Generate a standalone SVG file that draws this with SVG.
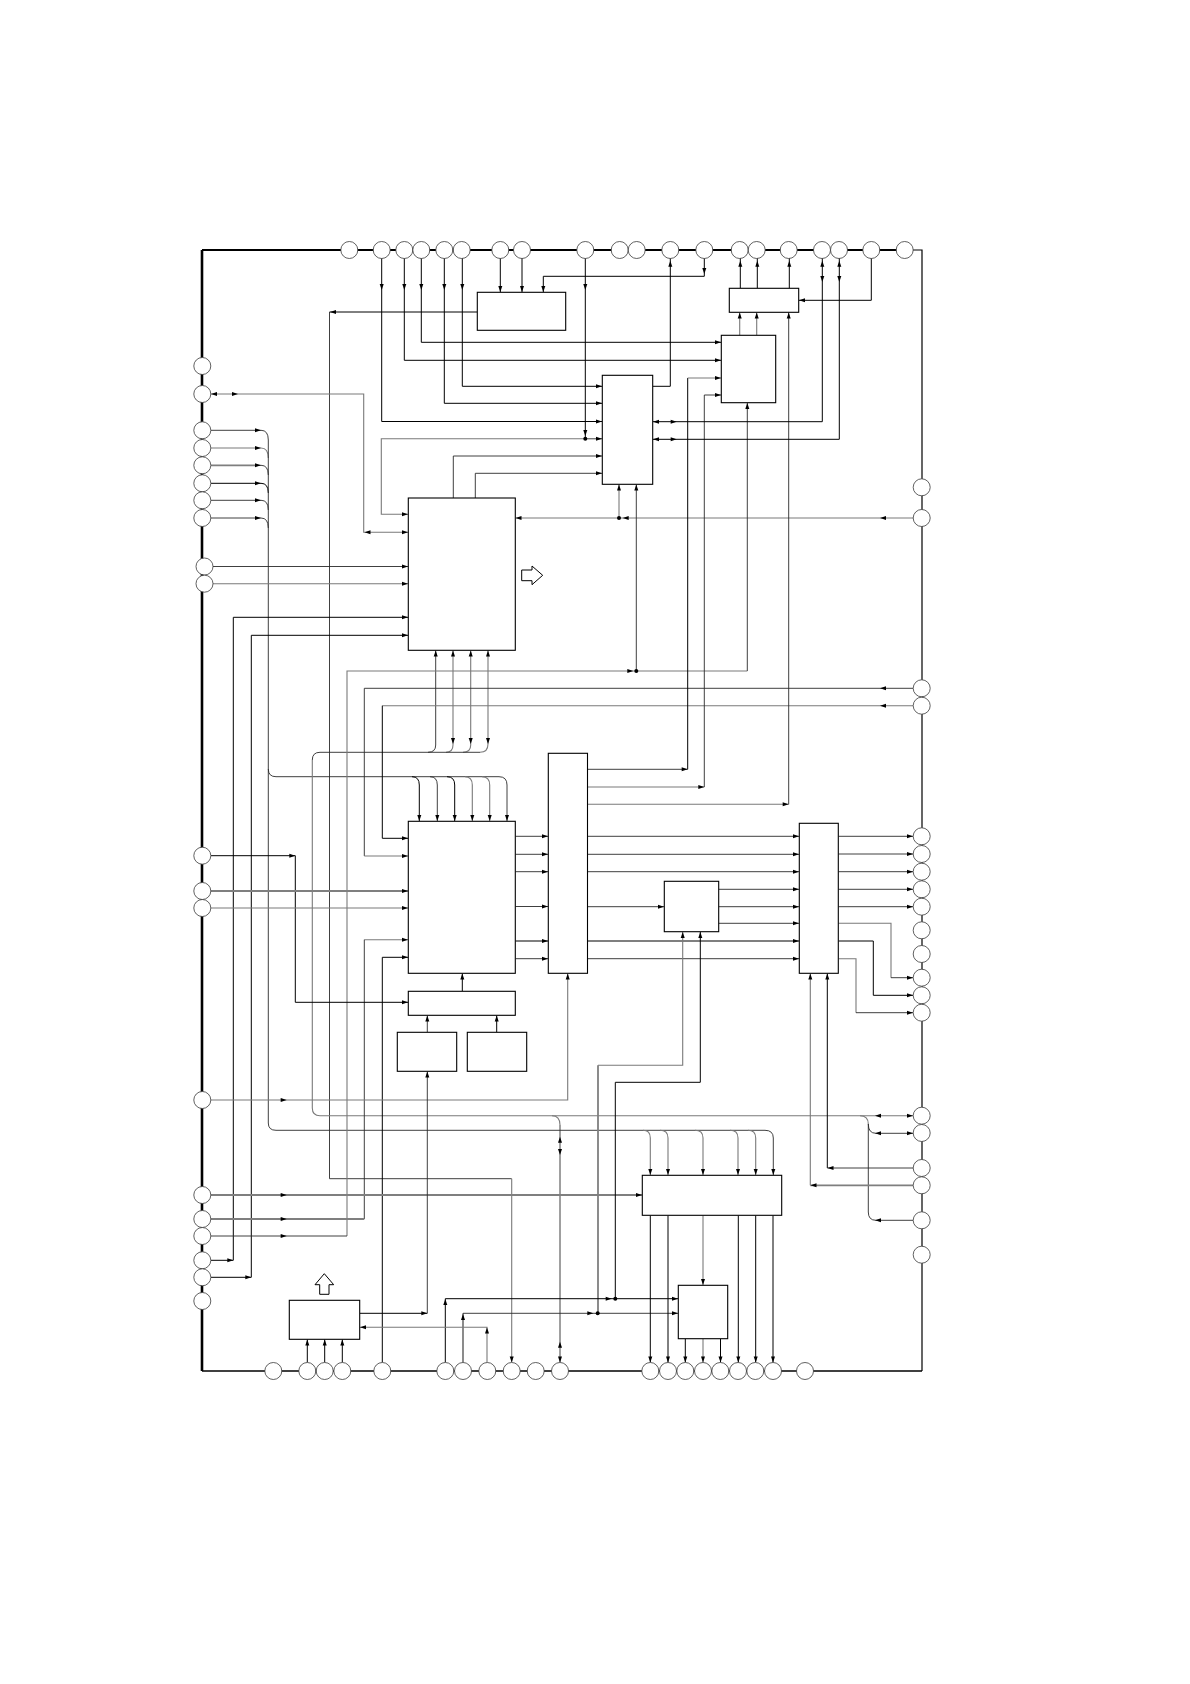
<svg xmlns="http://www.w3.org/2000/svg" width="1190" height="1684" viewBox="0 0 1190 1684">
<style>
#connectors path{fill:none;stroke:#2a2a2a;stroke-width:.9}
#connectors path.k{stroke:#000;stroke-width:1}
#connectors path.g{stroke:#7a7a7a;stroke-width:1.1}
#connectors path.t{stroke:#7f7f7f;stroke-width:1.8}
#frame path{fill:none;stroke:#000}
.box rect{fill:#fff;stroke:#000;stroke-width:1.1}
.pin circle{fill:#fff;stroke:#3a3a3a;stroke-width:.8}
.hollow polygon{fill:#fff;stroke:#000;stroke-width:1}
.h{fill:#000;stroke:none}
</style>
<defs>
<path id="r" class="h" d="M0 0L-6-2V2Z"/>
<path id="l" class="h" d="M0 0L6-2V2Z"/>
<path id="u" class="h" d="M0 0L-2 6H2Z"/>
<path id="d" class="h" d="M0 0L-2-6H2Z"/>
<circle id="dot" class="h" r="2"/>
</defs>
<rect width="1190" height="1684" fill="#fff"/>
<g id="frame">
<path d="M202 1371V250" stroke-width="2.6"/>
<path d="M202 250H904" stroke-width="2"/>
<path d="M904 250H922V1371" stroke-width="1.2"/>
<path d="M202 1371H922" stroke-width="1.4"/>
</g>
<g id="connectors">
<path class="k" d="M381.7 258V421.5H602"/>
<path class="k" d="M404.3 258V360.3H721"/>
<path class="k" d="M421.3 258V342.3H721"/>
<path class="k" d="M444.3 258V403.3H602"/>
<path class="k" d="M462.3 258V386.3H602"/>
<path class="k" d="M500.3 258V292"/>
<path class="k" d="M522 258V292"/>
<path class="k" d="M543.3 292V276.3H704.3V258"/>
<path class="k" d="M585.3 258V438.8"/>
<path class="g" d="M585.3 438.8H381.3V514.3H408"/>
<path d="M585.3 438.8H602"/>
<path d="M453.3 498V456H602"/>
<path d="M475.3 498V473.3H602"/>
<path class="k" d="M477 312H329.5"/>
<path d="M329.5 312V1178.7H511.7"/>
<path class="g" d="M511.7 1178.7V1362"/>
<path class="g" d="M211 394H363.7V532.3H408"/>
<path d="M211 430.3H261Q268.3 430.3 268.3 440"/>
<path class="g" d="M211 448H261Q268.3 448 268.3 458"/>
<path class="t" d="M211 465.3H255"/>
<path d="M255 465.3H261Q268.3 465.3 268.3 475"/>
<path class="k" d="M211 483.3H261Q268.3 483.3 268.3 493"/>
<path d="M211 500.3H261Q268.3 500.3 268.3 510"/>
<path d="M211 518H261Q268.3 518 268.3 528"/>
<path d="M268.3 440V769Q268.3 776.7 276 776.7H499Q507 776.7 507 785V821"/>
<path class="k" d="M412 776.7Q419.3 776.7 419.3 785V821"/>
<path d="M430 776.7Q437.3 776.7 437.3 785V821"/>
<path class="k" d="M447 776.7Q454.7 776.7 454.7 785V821"/>
<path class="g" d="M465 776.7Q472.3 776.7 472.3 785V821"/>
<path class="g" d="M482 776.7Q489.7 776.7 489.7 785V821"/>
<path d="M268.3 769V1123Q268.3 1130.3 276 1130.3H765Q773.3 1130.3 773.3 1138V1175"/>
<path class="g" d="M643 1130.3Q650.3 1130.3 650.3 1138V1175"/>
<path class="g" d="M660 1130.3Q668 1130.3 668 1138V1175"/>
<path class="g" d="M695 1130.3Q703 1130.3 703 1138V1175"/>
<path class="g" d="M730 1130.3Q738 1130.3 738 1138V1175"/>
<path class="g" d="M748 1130.3Q755.7 1130.3 755.7 1138V1175"/>
<path d="M212 566.5H408"/>
<path class="g" d="M212 583.7H408"/>
<path class="k" d="M408 617.3H233.3V1260.3H211"/>
<path class="k" d="M408 635.3H251.3V1277.3H211"/>
<path d="M435.7 650.3V745Q435.7 752.3 428 752.3"/>
<path class="g" d="M453 650.3V745Q453 752.3 446 752.3"/>
<path class="g" d="M470.7 650.3V745Q470.7 752.3 463 752.3"/>
<path class="g" d="M488 650.3V744Q488 752.3 480 752.3"/>
<path d="M480 752.3H320Q312.3 752.3 312.3 760"/>
<path class="g" d="M312.3 760V1108Q312.3 1115.7 320 1115.7H860Q868.3 1115.7 868.3 1124"/>
<path class="g" d="M860 1115.7H913"/>
<path d="M868.3 1124V1212Q868.3 1220.3 876 1220.3H913"/>
<path d="M868.3 1124Q868.3 1133.3 876 1133.3H913"/>
<path class="g" d="M552 1115.7Q560 1115.7 560 1125"/>
<path d="M560 1125V1362"/>
<path class="g" d="M913 518H515.5"/>
<path class="g" d="M619 518V484.5"/>
<path d="M636.3 484.5V671"/>
<path class="g" d="M636.3 671H347V1236"/>
<path d="M347 1236H211"/>
<path class="g" d="M636.3 671H747.3"/>
<path d="M747.3 671V403"/>
<path d="M913 688.3H364.3V856"/>
<path class="g" d="M364.3 856H408"/>
<path class="g" d="M913 705.7H382.3"/>
<path class="k" d="M382.3 705.7V838.3H408"/>
<path class="g" d="M364.3 939.7H408"/>
<path d="M364.3 939.7V1219"/>
<path class="t" d="M364.3 1219H211"/>
<path class="k" d="M382.3 1362.5V957.3H408"/>
<path class="k" d="M211 855.7H295.3V1002.3H408"/>
<path class="t" d="M211 891H408"/>
<path class="g" d="M211 908H408"/>
<path class="g" d="M211 1100H567.7V973.5"/>
<path class="t" d="M211 1195H642"/>
<path d="M587.5 769.3H687.7"/>
<path class="k" d="M687.7 769.3V378"/>
<path class="g" d="M687.7 378H721"/>
<path class="g" d="M587.5 787H704.3"/>
<path d="M704.3 787V395"/>
<path d="M704.3 395H721"/>
<path class="g" d="M587.5 804.3H788.7"/>
<path d="M788.7 804.3V312.5"/>
<path d="M587.5 836.3H799"/>
<path d="M587.5 854.3H799"/>
<path d="M587.5 871.7H799"/>
<path d="M718.7 889.3H799"/>
<path d="M718.7 906.7H799"/>
<path d="M718.7 923.3H799"/>
<path d="M587.5 906.7H664"/>
<path class="t" d="M587.5 941H799"/>
<path d="M587.5 958.7H799"/>
<path d="M838.5 836.3H913"/>
<path d="M838.5 854H913"/>
<path d="M838.5 871.7H913"/>
<path d="M838.5 889.3H913"/>
<path d="M838.5 906.7H913"/>
<path class="g" d="M838.5 923.3H891V977.7"/>
<path d="M891 977.7H913"/>
<path class="k" d="M838.5 941H873.3V995.3H913"/>
<path class="g" d="M838.5 958.7H856V1012.7"/>
<path d="M856 1012.7H913"/>
<path class="g" d="M810.3 973.5V1185.3"/>
<path class="t" d="M810.3 1185.3H913"/>
<path class="k" d="M827.3 973.5V1168"/>
<path d="M827.3 1168H913"/>
<path d="M515.5 836.3H548"/>
<path d="M515.5 854.3H548"/>
<path d="M515.5 871.7H548"/>
<path d="M515.5 906.5H548"/>
<path class="t" d="M515.5 941H548"/>
<path d="M515.5 958.7H548"/>
<path class="k" d="M462.3 991V973.5"/>
<path d="M427.3 1032V1015.5"/>
<path class="k" d="M496.7 1032V1015.5"/>
<path d="M427.3 1071.5V1313.3"/>
<path class="k" d="M427.3 1313.3H360"/>
<path class="g" d="M682.7 931.9V1065.3H598"/>
<path class="t" d="M598 1065.3V1313.3"/>
<path class="k" d="M700.3 931.9V1082.3H615.3V1298.7"/>
<path class="k" d="M445.3 1362.5V1298.7H678"/>
<path class="t" d="M463 1362.5V1313.3"/>
<path d="M463 1313.3H678"/>
<path class="g" d="M487 1362.5V1327.3H360"/>
<path class="k" d="M307.3 1362.5V1339.5"/>
<path class="k" d="M324.7 1362.5V1339.5"/>
<path class="k" d="M342.3 1362.5V1339.5"/>
<path class="k" d="M650.3 1215.5V1362.5"/>
<path class="k" d="M668 1215.5V1362.5"/>
<path class="g" d="M703 1215.5V1285"/>
<path class="k" d="M738.3 1215.5V1362.5"/>
<path class="k" d="M755.7 1215.5V1362.5"/>
<path class="k" d="M773 1215.5V1362.5"/>
<path class="k" d="M685.3 1339V1362.5"/>
<path class="g" d="M703 1339V1362.5"/>
<path class="k" d="M720.5 1339V1362.5"/>
<path class="k" d="M652.9 386.3H670.3V258"/>
<path class="k" d="M740.3 288.3V258"/>
<path class="k" d="M757.3 288.3V258"/>
<path class="k" d="M789.3 288.3V258"/>
<path class="g" d="M739.7 335.3V312.5"/>
<path class="g" d="M756.7 335.3V312.5"/>
<path class="k" d="M822.3 258V421.7H653"/>
<path class="k" d="M839.3 258V439.3H653"/>
<path class="k" d="M871.3 258V300.3H799"/>
<use href="#d" x="381.7" y="290"/><use href="#d" x="404.3" y="290"/><use href="#d" x="421.3" y="290"/><use href="#d" x="444.3" y="290"/><use href="#d" x="462.3" y="290"/><use href="#d" x="585.3" y="290"/><use href="#d" x="585.3" y="436"/><use href="#d" x="704.3" y="274"/>
<use href="#d" x="500.3" y="292"/><use href="#d" x="522" y="292"/><use href="#d" x="543.3" y="292"/>
<use href="#r" x="602" y="386.3"/><use href="#r" x="602" y="403.3"/><use href="#r" x="602" y="421.5"/><use href="#r" x="602" y="438.8"/><use href="#r" x="602" y="456"/><use href="#r" x="602" y="473.3"/>
<use href="#r" x="721" y="342.3"/><use href="#r" x="721" y="360.3"/><use href="#r" x="721" y="378"/><use href="#r" x="721" y="395"/>
<use href="#l" x="330" y="312"/>
<use href="#l" x="211" y="394"/><use href="#r" x="238" y="394"/><use href="#l" x="364.5" y="532.3"/><use href="#r" x="408" y="532.3"/><use href="#r" x="408" y="514.3"/>
<use href="#r" x="261" y="430.3"/><use href="#r" x="261" y="448"/><use href="#r" x="261" y="465.3"/><use href="#r" x="261" y="483.3"/><use href="#r" x="261" y="500.3"/><use href="#r" x="261" y="518"/>
<use href="#r" x="408" y="566.5"/><use href="#r" x="408" y="583.7"/><use href="#r" x="408" y="617.3"/><use href="#r" x="408" y="635.3"/>
<use href="#u" x="435.7" y="650.5"/><use href="#u" x="453" y="650.5"/><use href="#u" x="470.7" y="650.5"/><use href="#u" x="488" y="650.5"/>
<use href="#d" x="453" y="744"/><use href="#d" x="470.7" y="744"/><use href="#d" x="488" y="744"/>
<use href="#d" x="419.3" y="821"/><use href="#d" x="437.3" y="821"/><use href="#d" x="454.7" y="821"/><use href="#d" x="472.3" y="821"/><use href="#d" x="489.7" y="821"/><use href="#d" x="507" y="821"/>
<use href="#d" x="650.3" y="1175"/><use href="#d" x="668" y="1175"/><use href="#d" x="703" y="1175"/><use href="#d" x="738" y="1175"/><use href="#d" x="755.7" y="1175"/><use href="#d" x="773.3" y="1175"/>
<use href="#r" x="233.3" y="1260.3"/><use href="#r" x="251.3" y="1277.3"/>
<use href="#l" x="880" y="518"/><use href="#l" x="515.5" y="518"/><use href="#l" x="622.7" y="518"/><use href="#u" x="619" y="484.5"/><use href="#u" x="636.3" y="484.5"/>
<use href="#r" x="633.3" y="671"/><use href="#u" x="747.3" y="403"/>
<use href="#l" x="880" y="688.3"/><use href="#l" x="880" y="705.7"/>
<use href="#r" x="408" y="838.3"/><use href="#r" x="408" y="856"/><use href="#r" x="408" y="891"/><use href="#r" x="408" y="908"/><use href="#r" x="408" y="939.7"/><use href="#r" x="408" y="957.3"/><use href="#r" x="408" y="1002.3"/>
<use href="#r" x="295.3" y="855.7"/>
<use href="#r" x="286.7" y="1100"/><use href="#r" x="286.7" y="1195"/><use href="#r" x="286.7" y="1219"/><use href="#r" x="286.7" y="1236"/>
<use href="#u" x="567.7" y="973.5"/><use href="#r" x="642" y="1195"/>
<use href="#r" x="687.7" y="769.3"/><use href="#r" x="704.3" y="787"/><use href="#r" x="788.7" y="804.3"/><use href="#u" x="788.7" y="312.5"/>
<use href="#r" x="799" y="836.3"/><use href="#r" x="799" y="854.3"/><use href="#r" x="799" y="871.7"/><use href="#r" x="799" y="889.3"/><use href="#r" x="799" y="906.7"/><use href="#r" x="799" y="923.3"/><use href="#r" x="799" y="941"/><use href="#r" x="799" y="958.7"/>
<use href="#r" x="664" y="906.7"/>
<use href="#r" x="913" y="836.3"/><use href="#r" x="913" y="854"/><use href="#r" x="913" y="871.7"/><use href="#r" x="913" y="889.3"/><use href="#r" x="913" y="906.7"/><use href="#r" x="913" y="977.7"/><use href="#r" x="913" y="995.3"/><use href="#r" x="913" y="1012.7"/>
<use href="#u" x="810.3" y="973.5"/><use href="#u" x="827.3" y="973.5"/><use href="#l" x="827.5" y="1168"/><use href="#l" x="810.5" y="1185.3"/>
<use href="#r" x="548" y="836.3"/><use href="#r" x="548" y="854.3"/><use href="#r" x="548" y="871.7"/><use href="#r" x="548" y="906.5"/><use href="#r" x="548" y="941"/><use href="#r" x="548" y="958.7"/>
<use href="#u" x="462.3" y="973.5"/><use href="#u" x="427.3" y="1015.5"/><use href="#u" x="496.7" y="1015.5"/><use href="#u" x="427.3" y="1071.5"/><use href="#r" x="427.3" y="1313.3"/>
<use href="#u" x="682.7" y="932"/><use href="#u" x="700.3" y="932"/>
<use href="#u" x="445.3" y="1299"/><use href="#u" x="463" y="1314"/><use href="#u" x="487" y="1327.5"/><use href="#l" x="360" y="1327.3"/>
<use href="#r" x="611.7" y="1298.7"/><use href="#r" x="593.3" y="1313.3"/><use href="#r" x="678" y="1298.7"/><use href="#r" x="678" y="1313.3"/>
<use href="#u" x="307.3" y="1339.5"/><use href="#u" x="324.7" y="1339.5"/><use href="#u" x="342.3" y="1339.5"/>
<use href="#d" x="511.7" y="1362.5"/><use href="#u" x="560" y="1136.7"/><use href="#d" x="560" y="1155"/><use href="#u" x="560" y="1341.7"/><use href="#d" x="560" y="1362.5"/>
<use href="#d" x="650.3" y="1362.5"/><use href="#d" x="668" y="1362.5"/><use href="#d" x="685.3" y="1362.5"/><use href="#d" x="703" y="1362.5"/><use href="#d" x="720.5" y="1362.5"/><use href="#d" x="738.3" y="1362.5"/><use href="#d" x="755.7" y="1362.5"/><use href="#d" x="773" y="1362.5"/>
<use href="#d" x="703" y="1285"/>
<use href="#l" x="875" y="1115.7"/><use href="#r" x="913" y="1115.7"/><use href="#l" x="875" y="1133.3"/><use href="#r" x="913" y="1133.3"/><use href="#l" x="875" y="1220.3"/>
<use href="#u" x="670.3" y="260.7"/><use href="#u" x="740.3" y="260.7"/><use href="#u" x="757.3" y="260.7"/><use href="#u" x="789.3" y="260.7"/>
<use href="#u" x="739.7" y="312.5"/><use href="#u" x="756.7" y="312.5"/>
<use href="#u" x="822.3" y="260.7"/><use href="#d" x="822.3" y="282"/><use href="#u" x="839.3" y="260.7"/><use href="#d" x="839.3" y="282"/>
<use href="#l" x="653" y="421.7"/><use href="#r" x="676.7" y="421.7"/><use href="#l" x="653" y="439.3"/><use href="#r" x="676.7" y="439.3"/><use href="#l" x="799" y="300.3"/>
<use href="#dot" x="585.3" y="438.8"/><use href="#dot" x="619" y="518"/><use href="#dot" x="636.3" y="671"/><use href="#dot" x="615.3" y="1298.7"/><use href="#dot" x="597.7" y="1313.3"/>
</g>
<g id="boxes" class="box">
<g id="box-a"><rect x="477.3" y="292.3" width="88.4" height="38"/></g>
<g id="box-b"><rect x="729.3" y="288.3" width="69.4" height="24"/></g>
<g id="box-c"><rect x="721.3" y="335.3" width="54.4" height="67.4"/></g>
<g id="box-d"><rect x="602.3" y="375.3" width="50.4" height="109"/></g>
<g id="box-e"><rect x="408.3" y="498" width="107" height="152.3"/></g>
<g id="box-f"><rect x="408.3" y="821.3" width="107" height="152"/></g>
<g id="box-g"><rect x="548.3" y="753.3" width="39.2" height="220"/></g>
<g id="box-h"><rect x="664.3" y="881.3" width="54.4" height="50.4"/></g>
<g id="box-i"><rect x="799.3" y="823.3" width="39" height="150"/></g>
<g id="box-j"><rect x="408.3" y="991.3" width="107" height="24"/></g>
<g id="box-k"><rect x="397.3" y="1032.3" width="59.4" height="39"/></g>
<g id="box-l"><rect x="467.3" y="1032.3" width="59.4" height="39"/></g>
<g id="box-m"><rect x="642.3" y="1175.3" width="139.4" height="40"/></g>
<g id="box-n"><rect x="678.3" y="1285.3" width="49.4" height="53.4"/></g>
<g id="box-o"><rect x="289.3" y="1300.3" width="70.4" height="39"/></g>
</g>
<g id="hollow-arrows" class="hollow">
<g id="arrow-right"><polygon points="521.7,570 532,570 532,566 542.7,575.3 532,584.7 532,580.7 521.7,580.7"/></g>
<g id="arrow-up"><polygon points="324.3,1273.7 333.7,1284.7 329,1284.7 329,1294.3 319.7,1294.3 319.7,1284.7 315,1284.7"/></g>
</g>
<g id="pins" class="pin">
<g id="t1"><circle cx="349.3" cy="250" r="8.5"/></g>
<g id="t2"><circle cx="381.7" cy="250" r="8.5"/></g>
<g id="t3"><circle cx="404.3" cy="250" r="8.5"/></g>
<g id="t4"><circle cx="421.3" cy="250" r="8.5"/></g>
<g id="t5"><circle cx="444.3" cy="250" r="8.5"/></g>
<g id="t6"><circle cx="461.7" cy="250" r="8.5"/></g>
<g id="t7"><circle cx="500.3" cy="250" r="8.5"/></g>
<g id="t8"><circle cx="522" cy="250" r="8.5"/></g>
<g id="t9"><circle cx="585.3" cy="250" r="8.5"/></g>
<g id="t10"><circle cx="619.7" cy="250" r="8.5"/></g>
<g id="t11"><circle cx="636.7" cy="250" r="8.5"/></g>
<g id="t12"><circle cx="670.3" cy="250" r="8.5"/></g>
<g id="t13"><circle cx="704.3" cy="250" r="8.5"/></g>
<g id="t14"><circle cx="739.7" cy="250" r="8.5"/></g>
<g id="t15"><circle cx="756.7" cy="250" r="8.5"/></g>
<g id="t16"><circle cx="788.7" cy="250" r="8.5"/></g>
<g id="t17"><circle cx="822" cy="250" r="8.5"/></g>
<g id="t18"><circle cx="839" cy="250" r="8.5"/></g>
<g id="t19"><circle cx="871.3" cy="250" r="8.5"/></g>
<g id="t20"><circle cx="904.7" cy="250" r="8.5"/></g>
<g id="l1"><circle cx="202.3" cy="366" r="8.5"/></g>
<g id="l2"><circle cx="202.3" cy="394" r="8.5"/></g>
<g id="l3"><circle cx="202.3" cy="430.3" r="8.5"/></g>
<g id="l4"><circle cx="202.3" cy="448" r="8.5"/></g>
<g id="l5"><circle cx="202.3" cy="465.3" r="8.5"/></g>
<g id="l6"><circle cx="202.3" cy="483.3" r="8.5"/></g>
<g id="l7"><circle cx="202.3" cy="500.3" r="8.5"/></g>
<g id="l8"><circle cx="202.3" cy="518" r="8.5"/></g>
<g id="l9"><circle cx="204.5" cy="566.5" r="8.5"/></g>
<g id="l10"><circle cx="204.5" cy="583.7" r="8.5"/></g>
<g id="l11"><circle cx="202.3" cy="855.7" r="8.5"/></g>
<g id="l12"><circle cx="202.3" cy="891" r="8.5"/></g>
<g id="l13"><circle cx="202.3" cy="908" r="8.5"/></g>
<g id="l14"><circle cx="202.3" cy="1100" r="8.5"/></g>
<g id="l15"><circle cx="202.3" cy="1195" r="8.5"/></g>
<g id="l16"><circle cx="202.3" cy="1219" r="8.5"/></g>
<g id="l17"><circle cx="202.3" cy="1236" r="8.5"/></g>
<g id="l18"><circle cx="202.3" cy="1260.3" r="8.5"/></g>
<g id="l19"><circle cx="202.3" cy="1277.3" r="8.5"/></g>
<g id="l20"><circle cx="202.3" cy="1301" r="8.5"/></g>
<g id="b1"><circle cx="273.3" cy="1371" r="8.5"/></g>
<g id="b2"><circle cx="307.3" cy="1371" r="8.5"/></g>
<g id="b3"><circle cx="324.7" cy="1371" r="8.5"/></g>
<g id="b4"><circle cx="342.3" cy="1371" r="8.5"/></g>
<g id="b5"><circle cx="382.3" cy="1371" r="8.5"/></g>
<g id="b6"><circle cx="445.3" cy="1371" r="8.5"/></g>
<g id="b7"><circle cx="463" cy="1371" r="8.5"/></g>
<g id="b8"><circle cx="487.3" cy="1371" r="8.5"/></g>
<g id="b9"><circle cx="511.7" cy="1371" r="8.5"/></g>
<g id="b10"><circle cx="535.7" cy="1371" r="8.5"/></g>
<g id="b11"><circle cx="560" cy="1371" r="8.5"/></g>
<g id="b12"><circle cx="650.3" cy="1371" r="8.5"/></g>
<g id="b13"><circle cx="668" cy="1371" r="8.5"/></g>
<g id="b14"><circle cx="685.3" cy="1371" r="8.5"/></g>
<g id="b15"><circle cx="703" cy="1371" r="8.5"/></g>
<g id="b16"><circle cx="720.3" cy="1371" r="8.5"/></g>
<g id="b17"><circle cx="738" cy="1371" r="8.5"/></g>
<g id="b18"><circle cx="755.3" cy="1371" r="8.5"/></g>
<g id="b19"><circle cx="773" cy="1371" r="8.5"/></g>
<g id="b20"><circle cx="805" cy="1371" r="8.5"/></g>
<g id="r1"><circle cx="921.7" cy="487.3" r="8.5"/></g>
<g id="r2"><circle cx="921.7" cy="518" r="8.5"/></g>
<g id="r3"><circle cx="921.7" cy="688.3" r="8.5"/></g>
<g id="r4"><circle cx="921.7" cy="705.7" r="8.5"/></g>
<g id="r5"><circle cx="921.7" cy="836.3" r="8.5"/></g>
<g id="r6"><circle cx="921.7" cy="854" r="8.5"/></g>
<g id="r7"><circle cx="921.7" cy="871.7" r="8.5"/></g>
<g id="r8"><circle cx="921.7" cy="889.3" r="8.5"/></g>
<g id="r9"><circle cx="921.7" cy="906.7" r="8.5"/></g>
<g id="r10"><circle cx="921.7" cy="930.3" r="8.5"/></g>
<g id="r11"><circle cx="921.7" cy="954" r="8.5"/></g>
<g id="r12"><circle cx="921.7" cy="977.7" r="8.5"/></g>
<g id="r13"><circle cx="921.7" cy="995.3" r="8.5"/></g>
<g id="r14"><circle cx="921.7" cy="1012.7" r="8.5"/></g>
<g id="r15"><circle cx="921.7" cy="1115.7" r="8.5"/></g>
<g id="r16"><circle cx="921.7" cy="1133" r="8.5"/></g>
<g id="r17"><circle cx="921.7" cy="1168" r="8.5"/></g>
<g id="r18"><circle cx="921.7" cy="1185.3" r="8.5"/></g>
<g id="r19"><circle cx="921.7" cy="1220.3" r="8.5"/></g>
<g id="r20"><circle cx="921.7" cy="1254.7" r="8.5"/></g>
</g>
</svg>
